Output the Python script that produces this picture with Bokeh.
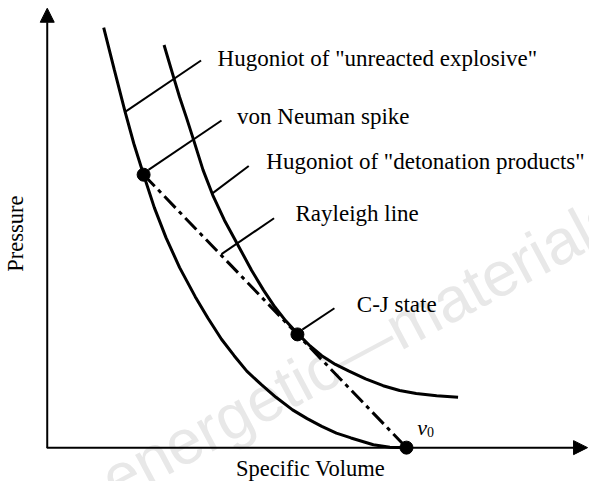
import math
from bokeh.plotting import figure
from bokeh.models import Range1d, Arrow, NormalHead, ColumnDataSource
from bokeh.core.properties import value
from bokeh.embed import file_html
from bokeh.resources import INLINE

# ---- data (arbitrary units: specific volume v, pressure P) ----
unreacted_v = [0.58, 0.69, 0.80, 0.89, 0.99, 1.10, 1.22, 1.36, 1.52, 1.65, 1.79, 1.92,
               2.05, 2.20, 2.35, 2.52, 2.67, 2.82, 2.97, 3.12, 3.35, 3.52, 3.69]
unreacted_p = [4.34, 3.90, 3.47, 3.14, 2.82, 2.48, 2.17, 1.86, 1.56, 1.34, 1.12, 0.95,
               0.79, 0.65, 0.52, 0.39, 0.30, 0.22, 0.15, 0.10, 0.03, 0.005, 0.0]

products_v = [1.20, 1.25, 1.30, 1.36, 1.43, 1.50, 1.60, 1.70, 1.82, 1.95, 2.10, 2.22, 2.34,
              2.45, 2.57, 2.70, 2.82, 2.96, 3.10, 3.27, 3.45, 3.62, 3.79, 4.00, 4.22]
products_p = [4.16, 3.99, 3.82, 3.62, 3.41, 3.19, 2.87, 2.61, 2.35, 2.11, 1.83, 1.63, 1.45,
              1.31, 1.18, 1.05, 0.95, 0.86, 0.79, 0.71, 0.64, 0.59, 0.56, 0.535, 0.52]

# states: von Neumann spike, C-J state, initial state v0
state_v = [0.99, 2.57, 3.69]
state_p = [2.82, 1.17, 0.0]

labels = ['Hugoniot of "unreacted explosive"', 'von Neuman spike',
          'Hugoniot of "detonation products"', 'Rayleigh line', 'C-J state']

x_label = "Specific Volume"
y_label = "Pressure"

# ---- layout of annotations ----
label_x = [1.75, 1.95, 2.25, 2.55, 3.18]
label_y = [4.02, 3.42, 2.96, 2.42, 1.48]
lead_x0 = [0.80, 1.04, 1.70, 1.79, 2.62]
lead_y0 = [3.47, 2.87, 2.63, 2.00, 1.22]
lead_x1 = [1.58, 1.79, 2.07, 2.33, 2.95]
lead_y1 = [4.00, 3.38, 2.91, 2.37, 1.44]

SERIF = value("Liberation Serif")

p = figure(width=589, height=481, x_range=Range1d(-0.48, 5.57), y_range=Range1d(-0.35, 4.62),
           output_backend="svg", toolbar_location=None, min_border=0,
           x_axis_location=None, y_axis_location=None)
p.grid.visible = False
p.outline_line_color = None
p.background_fill_color = "white"

# watermark
p.text(x=[0.60], y=[-0.37], text=["energetic\u2014materials"], angle=0.49,
       text_font=value("Liberation Sans"), text_font_size="63px", text_color="#e8e8e8",
       text_baseline="alphabetic", text_align="left")

# axes with arrows
p.add_layout(Arrow(end=NormalHead(size=14, fill_color="black", line_color="black"),
                   x_start=0, y_start=-0.005, x_end=0, y_end=4.54, line_width=2))
p.add_layout(Arrow(end=NormalHead(size=14, fill_color="black", line_color="black"),
                   x_start=-0.005, y_start=0, x_end=5.55, y_end=0, line_width=2))

# curves
p.line(unreacted_v, unreacted_p, line_color="black", line_width=3)
p.line(products_v, products_p, line_color="black", line_width=3)

# Rayleigh line (von Neumann spike -> v0)
p.line([state_v[0], state_v[2]], [state_p[0], state_p[2]], line_color="black",
       line_width=3, line_dash="16 5 4 5")

# leaders
p.segment(x0=lead_x0, y0=lead_y0, x1=lead_x1, y1=lead_y1, line_color="black", line_width=2)

# state points
p.scatter(state_v, state_p, size=13, fill_color="black", line_color="black")

# labels
src = ColumnDataSource(dict(x=label_x, y=label_y, t=labels))
p.text(x="x", y="y", text="t", source=src, text_font=SERIF, text_font_size="23px",
       text_color="black", text_baseline="alphabetic", text_align="left")

p.text(x=[3.80], y=[0.21], text=["v"], text_font=SERIF, text_font_style="italic",
       text_font_size="22px", text_color="black", text_baseline="alphabetic")
p.text(x=[3.90], y=[0.16], text=["0"], text_font=SERIF,
       text_font_size="14px", text_color="black", text_baseline="alphabetic")

p.text(x=[1.94], y=[-0.22], text=[x_label], text_font=SERIF, text_font_size="22.5px",
       text_color="black", text_baseline="alphabetic", text_align="left")
p.text(x=[-0.33], y=[2.21], text=[y_label], angle=math.pi / 2, text_font=SERIF,
       text_font_size="22.5px", text_color="black", text_baseline="middle", text_align="center")

open("out.html", "w").write(file_html(p, INLINE))
